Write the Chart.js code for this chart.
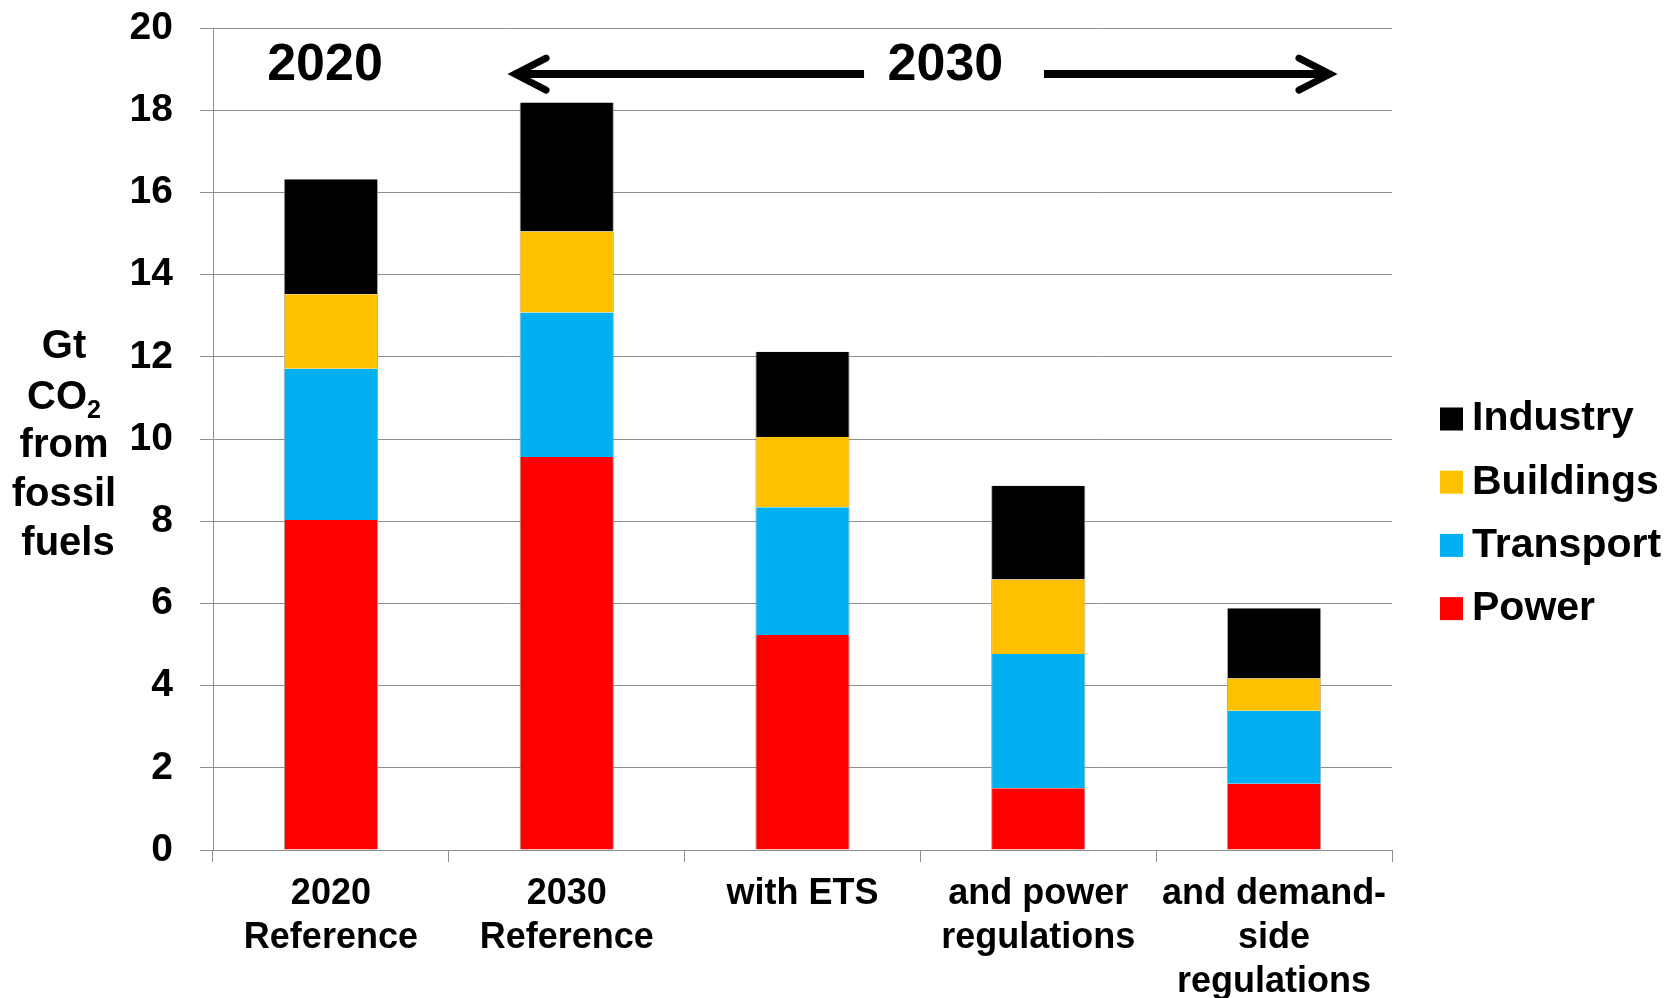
<!DOCTYPE html>
<html>
<head>
<meta charset="utf-8">
<title>Gt CO2 from fossil fuels</title>
<script src="https://cdn.jsdelivr.net/npm/chart.js@4"></script>
<style>
  html, body { margin: 0; padding: 0; background: #fff; }
</style>
</head>
<body>
<canvas id="co2-chart" width="1669" height="998"></canvas>
<script>
// Categories (multi-line labels) and stacked series, Gt CO2
const categories = [
  ['2020', 'Reference'],
  ['2030', 'Reference'],
  ['with ETS'],
  ['and power', 'regulations'],
  ['and demand-', 'side', 'regulations']
];
const power     = [8.03, 9.56, 5.23, 1.50, 1.61];
const transport = [3.68, 3.52, 3.11, 3.27, 1.78];
const buildings = [1.81, 1.97, 1.71, 1.81, 0.78];
const industry  = [2.80, 3.14, 2.07, 2.28, 1.71];

// Y axis range
const yMin = 0;
const yMax = 20;
const yStep = 2;

// Period annotations above the bars (x in category units, y in Gt)
const periodLabels = [
  { text: '2020', x: -0.025, y: 19.08 },
  { text: '2030', x: 2.606, y: 19.08 }
];
const periodArrows = [
  { from: 2.261, to: 0.781, y: 18.88 },
  { from: 3.024, to: 4.237, y: 18.88 }
];

const FONT = "'Liberation Sans', Arial, sans-serif";
const GRID = '#8f8f8f';

const series = [
  { label: 'Power', data: power, color: '#FF0000' },
  { label: 'Transport', data: transport, color: '#00B0F0' },
  { label: 'Buildings', data: buildings, color: '#FFC000' },
  { label: 'Industry', data: industry, color: '#000000' }
];

/**
 * Draws the period labels/arrows, y axis title and legend
 */
const extrasPlugin = {
  id: 'extras',
  afterDraw: function(chart) {
    const ctx = chart.ctx;
    const xs = chart.scales.x;
    const ys = chart.scales.y;
    ctx.save();

    // Period labels
    ctx.fillStyle = '#000';
    ctx.font = 'bold 52px ' + FONT;
    ctx.textAlign = 'center';
    ctx.textBaseline = 'middle';
    periodLabels.forEach(p => {
      ctx.fillText(p.text, xs.getPixelForValue(p.x), ys.getPixelForValue(p.y));
    });

    // Arrows
    ctx.strokeStyle = '#000';
    periodArrows.forEach(a => {
      const x0 = xs.getPixelForValue(a.from);
      const x1 = xs.getPixelForValue(a.to);
      const y = ys.getPixelForValue(a.y);
      const dir = x1 > x0 ? 1 : -1;
      ctx.lineWidth = 8;
      ctx.lineCap = 'butt';
      ctx.beginPath();
      ctx.moveTo(x0, y);
      ctx.lineTo(x1 - dir * 3, y);
      ctx.stroke();
      ctx.lineWidth = 7;
      ctx.lineCap = 'round';
      ctx.lineJoin = 'miter';
      ctx.beginPath();
      ctx.moveTo(x1 - dir * 31, y - 16);
      ctx.lineTo(x1, y);
      ctx.lineTo(x1 - dir * 31, y + 16);
      ctx.stroke();
    });

    // Y axis title with subscript
    const titleX = 64;
    ctx.font = 'bold 40px ' + FONT;
    ctx.textAlign = 'center';
    ctx.textBaseline = 'alphabetic';
    ctx.fillText('Gt', titleX, 358);
    const coW = ctx.measureText('CO').width;
    ctx.font = 'bold 25px ' + FONT;
    const subW = ctx.measureText('2').width;
    const startX = titleX - (coW + subW) / 2;
    ctx.font = 'bold 40px ' + FONT;
    ctx.textAlign = 'left';
    ctx.fillText('CO', startX, 409);
    ctx.font = 'bold 25px ' + FONT;
    ctx.fillText('2', startX + coW, 418);
    ctx.font = 'bold 40px ' + FONT;
    ctx.textAlign = 'center';
    ctx.fillText('from', titleX, 457);
    ctx.fillText('fossil', titleX, 506);
    ctx.fillText('fuels', titleX + 4, 555);

    // Legend (top to bottom: reverse stack order)
    const legendX = chart.chartArea.right + 48;
    const rowTop = 419;
    const rowGap = 63.2;
    ctx.font = 'bold 41px ' + FONT;
    ctx.textAlign = 'left';
    ctx.textBaseline = 'middle';
    series.slice().reverse().forEach((s, i) => {
      const cy = rowTop + i * rowGap;
      ctx.fillStyle = s.color;
      ctx.fillRect(legendX, cy - 11.5, 23, 23);
      ctx.fillStyle = '#000';
      ctx.fillText(s.label, legendX + 32, cy);
    });

    ctx.restore();
  }
};

const ctx = document.getElementById('co2-chart');

new Chart(ctx, {
  type: 'bar',
  data: {
    labels: categories,
    datasets: series.map(s => ({
      label: s.label,
      data: s.data,
      backgroundColor: s.color,
      borderColor: '#a6a6a6',
      borderWidth: { left: 1, right: 1, top: 0, bottom: 0 },
      borderSkipped: false,
      categoryPercentage: 1.0,
      barPercentage: 0.4
    }))
  },
  options: {
    responsive: false,
    animation: false,
    devicePixelRatio: 1,
    layout: {
      padding: { left: 0, top: 28, right: 277, bottom: 0 }
    },
    plugins: {
      legend: { display: false },
      tooltip: { enabled: false }
    },
    scales: {
      x: {
        stacked: true,
        grid: {
          display: true,
          drawOnChartArea: false,
          drawTicks: true,
          tickLength: 12,
          color: GRID,
          lineWidth: 1,
          offset: true
        },
        border: { display: true, color: GRID, width: 1 },
        ticks: {
          color: '#000',
          font: { family: FONT, size: 36, weight: 'bold', lineHeight: 1.22 },
          padding: 10,
          maxRotation: 0,
          autoSkip: false
        },
        afterFit: function(scale) {
          scale.height = 148;
          scale.paddingLeft = 0;
          scale.paddingRight = 0;
        }
      },
      y: {
        stacked: true,
        min: yMin,
        max: yMax,
        grid: {
          color: GRID,
          lineWidth: 1,
          tickLength: 13
        },
        border: { display: true, color: GRID, width: 1 },
        ticks: {
          stepSize: yStep,
          color: '#000',
          font: { family: FONT, size: 39, weight: 'bold' },
          padding: 27
        },
        afterFit: function(scale) {
          scale.width = 213;
          scale.paddingTop = 0;
          scale.paddingBottom = 0;
        }
      }
    }
  },
  plugins: [extrasPlugin]
});
</script>
</body>
</html>
